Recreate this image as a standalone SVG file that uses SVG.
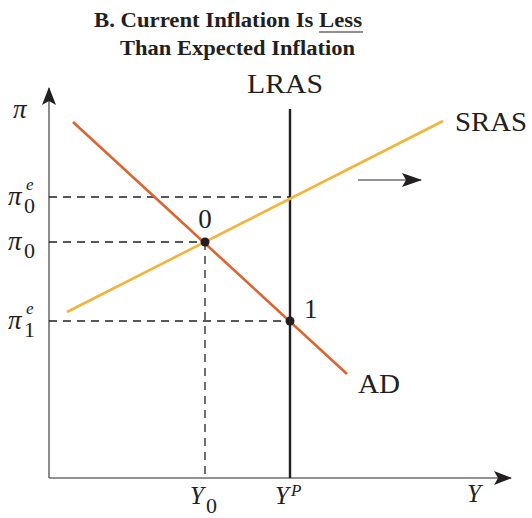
<svg xmlns="http://www.w3.org/2000/svg" width="532" height="518" viewBox="0 0 532 518">
<style>
.t{font-family:"Liberation Serif",serif;fill:#231f20}
.i{font-style:italic}
.title{font-weight:bold;font-size:20px}
.lab{font-size:27px}
.pi{font-size:27px;font-style:italic}
.sub{font-size:22px}
.sup{font-size:17px;font-style:italic}
.dash{stroke:#231f20;stroke-width:1.3;stroke-dasharray:8,6;fill:none}
</style>
<defs>
<marker id="ah" markerWidth="20" markerHeight="16" refX="19" refY="8" orient="auto" markerUnits="userSpaceOnUse" viewBox="0 0 20 16">
<path d="M0,1 L20,8 L0,15 L4,8 z" fill="#231f20"/>
</marker>
<marker id="big" markerWidth="18" markerHeight="16" refX="17" refY="8" orient="auto" markerUnits="userSpaceOnUse" viewBox="0 0 18 16">
<path d="M0,1 L18,8 L0,15 L4,8 z" fill="#231f20"/>
</marker>
</defs>
<rect width="532" height="518" fill="#fff"/>
<g id="title">
<text class="t title" x="94" y="27" textLength="268" lengthAdjust="spacingAndGlyphs">B. Current Inflation Is Less</text>
<line x1="319" y1="32" x2="363" y2="32" stroke="#231f20" stroke-width="1.2"/>
<text class="t title" x="120" y="55" textLength="235" lengthAdjust="spacingAndGlyphs">Than Expected Inflation</text>
</g>
<g id="axes">
<line x1="49" y1="478" x2="49" y2="88" stroke="#6d6e71" stroke-width="1.6" marker-end="url(#big)"/>
<line x1="49" y1="478" x2="511" y2="478" stroke="#6d6e71" stroke-width="1.6" marker-end="url(#big)"/>
<text class="t pi" x="13" y="118">π</text>
<text class="t i" x="467" y="502" font-size="25">Y</text>
</g>
<g id="connectors">
<line class="dash" x1="49" y1="197" x2="290" y2="197"/>
<line class="dash" x1="49" y1="242" x2="205" y2="242"/>
<line class="dash" x1="49" y1="321" x2="290" y2="321"/>
<line class="dash" x1="205" y1="242" x2="205" y2="478"/>
<line x1="358" y1="180" x2="421" y2="180" stroke="#6d6e71" stroke-width="1.6" marker-end="url(#ah)"/>
</g>
<g id="lras">
<line x1="290" y1="109" x2="290" y2="478" stroke="#231f20" stroke-width="2.4"/>
<text class="t lab" x="285" y="93" text-anchor="middle" textLength="76" lengthAdjust="spacingAndGlyphs">LRAS</text>
</g>
<g id="sras">
<line x1="67" y1="312" x2="443" y2="121" stroke="#f2b43c" stroke-width="2.6"/>
<text class="t lab" x="455" y="131" textLength="72" lengthAdjust="spacingAndGlyphs">SRAS</text>
</g>
<g id="ad">
<line x1="73" y1="122" x2="347" y2="374" stroke="#dc6430" stroke-width="2.6"/>
<text class="t lab" x="358" y="393" textLength="42" lengthAdjust="spacingAndGlyphs">AD</text>
</g>
<g id="point0">
<circle cx="205" cy="242" r="4.5" fill="#231f20"/>
<text class="t lab" x="205" y="228" text-anchor="middle">0</text>
</g>
<g id="point1">
<circle cx="290" cy="321" r="4.5" fill="#231f20"/>
<text class="t lab" x="304" y="318">1</text>
</g>
<g id="ylabels">
<text class="t pi" x="8" y="205">π</text><text class="t sub" x="24" y="213">0</text><text class="t sup" x="26" y="190">e</text>
<text class="t pi" x="8" y="250">π</text><text class="t sub" x="24" y="258">0</text>
<text class="t pi" x="8" y="329">π</text><text class="t sub" x="24" y="337">1</text><text class="t sup" x="26" y="314">e</text>
</g>
<g id="xlabels">
<text class="t i" x="190" y="504" font-size="25">Y</text><text class="t sub" x="206" y="513">0</text>
<text class="t i" x="275" y="504" font-size="25">Y</text><text class="t i" x="291" y="496" font-size="17">P</text>
</g>
</svg>
